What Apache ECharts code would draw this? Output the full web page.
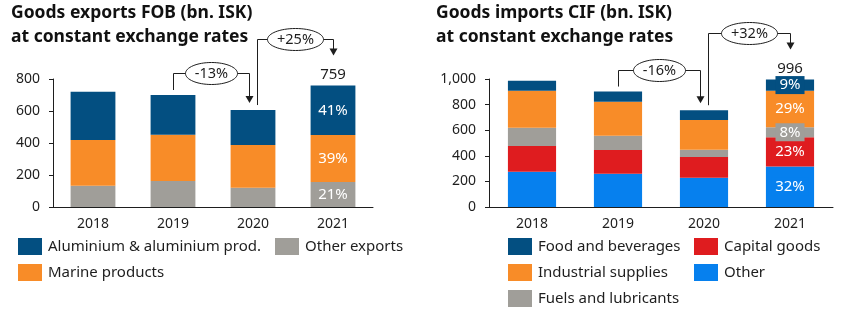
<!DOCTYPE html>
<html>
<head>
<meta charset="utf-8">
<script src="https://cdn.jsdelivr.net/npm/echarts@6/dist/echarts.min.js"></script>
<style>
  html, body { margin: 0; padding: 0; background: #fff; }
  #chart { width: 842px; height: 322px; }
</style>
</head>
<body>
<div id="chart"></div>
<script>
// Categories
const years = ['2018', '2019', '2020', '2021'];

// Goods exports FOB, bn. ISK at constant exchange rates (bottom to top of stack)
const exportOther = [133, 162, 121, 157];
const exportMarine = [286, 290, 266, 293];
const exportAluminium = [301, 248, 219, 309];

// Goods imports CIF, bn. ISK at constant exchange rates (bottom to top of stack)
const importOther = [276, 260, 229, 316];
const importCapital = [201, 185, 162, 228];
const importFuels = [143, 112, 57, 80];
const importIndustrial = [289, 266, 232, 285];
const importFood = [78, 79, 76, 87];

// Axis ticks
const exportTicks = [0, 200, 400, 600, 800];
const importTicks = [0, 200, 400, 600, 800, 1000];

const NAVY = '#034f81';
const ORANGE = '#f88c28';
const GREY = '#a09e99';
const RED = '#df1c1f';
const BLUE = '#0680ee';
const INK = '#1e1e1e';
const FONT = 'Noto Sans';

const chart = echarts.init(document.getElementById('chart'), null, { renderer: 'canvas' });

function sumAt(arrays, i) {
  return arrays.reduce((s, a) => s + a[i], 0);
}

const exportStack = [exportOther, exportMarine, exportAluminium];
const importStack = [importOther, importCapital, importFuels, importIndustrial, importFood];
const exportTotals = years.map((_, i) => sumAt(exportStack, i));
const importTotals = years.map((_, i) => sumAt(importStack, i));

const last = years.length - 1;

// Bar series; the latest year carries its share of the total as a label
function barSeries(name, values, color, gridIndex, totals) {
  return {
    name: name,
    type: 'bar',
    stack: 'g' + gridIndex,
    xAxisIndex: gridIndex,
    yAxisIndex: gridIndex,
    barWidth: '56%',
    itemStyle: { color: color },
    data: values.map((v, i) => i !== last ? v : {
      value: v,
      label: {
        show: true,
        position: 'inside',
        formatter: Math.round(v / totals[i] * 100) + '%',
        color: '#ffffff',
        fontFamily: FONT,
        fontSize: 15,
        backgroundColor: color,
        padding: [2, 4, 1, 4]
      }
    })
  };
}

function legend(names, left, top) {
  return {
    data: names,
    orient: 'vertical',
    left: left,
    top: top,
    padding: 0,
    itemWidth: 24,
    itemHeight: 17,
    itemGap: 9,
    icon: 'rect',
    selectedMode: false,
    textStyle: { fontFamily: FONT, fontSize: 15, color: INK, padding: [0, 0, 0, 1] }
  };
}

function xAxis(gridIndex) {
  return {
    type: 'category',
    gridIndex: gridIndex,
    data: years,
    axisLine: { lineStyle: { color: INK, width: 1 } },
    axisTick: { show: false },
    axisLabel: { fontFamily: FONT, fontSize: 14, color: INK, margin: 10 }
  };
}

function yAxis(gridIndex, ticks) {
  return {
    type: 'value',
    gridIndex: gridIndex,
    min: ticks[0],
    max: ticks[ticks.length - 1],
    interval: ticks[1] - ticks[0],
    axisLine: { show: true, lineStyle: { color: INK, width: 1 } },
    axisTick: { show: true, length: 4, lineStyle: { color: INK } },
    splitLine: { show: false },
    axisLabel: {
      fontFamily: FONT, fontSize: 14, color: INK, margin: 13,
      formatter: v => v.toLocaleString('en-US')
    }
  };
}

const titleStyle = { fontFamily: FONT, fontSize: 17.5, fontWeight: 'bold', color: '#111', lineHeight: 24 };

chart.setOption({
  animation: false,
  backgroundColor: '#ffffff',
  title: [
    { text: 'Goods exports FOB (bn. ISK)\nat constant exchange rates', left: 11, top: 1, padding: 0, textStyle: titleStyle },
    { text: 'Goods imports CIF (bn. ISK)\nat constant exchange rates', left: 436, top: 1, padding: 0, textStyle: titleStyle }
  ],
  grid: [
    { left: 53, top: 79, width: 320, height: 128 },
    { left: 489, top: 79, width: 344, height: 128 }
  ],
  xAxis: [xAxis(0), xAxis(1)],
  yAxis: [yAxis(0, exportTicks), yAxis(1, importTicks)],
  legend: [
    legend(['Aluminium & aluminium prod.', 'Marine products'], 18, 238),
    legend(['Other exports'], 275, 238),
    legend(['Food and beverages', 'Industrial supplies', 'Fuels and lubricants'], 508, 238),
    legend(['Capital goods', 'Other'], 694, 238)
  ],
  series: [
    barSeries('Other exports', exportOther, GREY, 0, exportTotals),
    barSeries('Marine products', exportMarine, ORANGE, 0, exportTotals),
    barSeries('Aluminium & aluminium prod.', exportAluminium, NAVY, 0, exportTotals),
    barSeries('Other', importOther, BLUE, 1, importTotals),
    barSeries('Capital goods', importCapital, RED, 1, importTotals),
    barSeries('Fuels and lubricants', importFuels, GREY, 1, importTotals),
    barSeries('Industrial supplies', importIndustrial, ORANGE, 1, importTotals),
    barSeries('Food and beverages', importFood, NAVY, 1, importTotals)
  ]
});

// Change call-outs between years: bracket line, ellipse with the % change, arrow head
const lineStyle = { stroke: INK, lineWidth: 1, fill: null };

function pctText(from, to) {
  const p = Math.round((to / from - 1) * 100);
  return (p > 0 ? '+' : '') + p + '%';
}

function crisp(v) { return Math.round(v) + 0.5; }

function bracket(x0, yStart, yLevel, x1, yTip, text, rx) {
  const xa = crisp(x0), xb = crisp(x1), yl = crisp(yLevel);
  const cx = (xa + xb) / 2;
  return [
    { type: 'polyline', z: 5, shape: { points: [[xa, yStart], [xa, yl], [xb, yl], [xb, yTip - 6]] }, style: lineStyle },
    { type: 'polygon', z: 5, shape: { points: [[xb - 4, yTip - 7], [xb + 4, yTip - 7], [xb, yTip]] }, style: { fill: INK } },
    { type: 'ellipse', z: 6, shape: { cx: cx, cy: yl, rx: rx, ry: 11 }, style: { fill: '#ffffff', stroke: INK, lineWidth: 1 } },
    { type: 'text', z: 7, x: cx, y: yl, style: { text: text, fill: INK, font: '14.5px "' + FONT + '"', align: 'center', verticalAlign: 'middle' } }
  ];
}

function callouts(gridIndex, totals) {
  const p = totals.map((t, i) => chart.convertToPixel({ gridIndex: gridIndex }, [i, t]));
  const labelY = p[3][1] - 11;
  return [].concat(
    bracket(p[1][0], p[1][1] - 5, p[1][1] - 22, p[2][0] - 4, p[2][1] - 7, pctText(totals[1], totals[2]), 26),
    bracket(p[2][0] + 4, p[2][1] - 5, labelY - 36, p[3][0], labelY - 19, pctText(totals[2], totals[3]), 28),
    [{ type: 'text', z: 1, x: p[3][0], y: labelY, style: { text: String(totals[3]), fill: INK, font: '15px "' + FONT + '"', align: 'center', verticalAlign: 'middle' } }]
  );
}

chart.setOption({
  graphic: { elements: [].concat(callouts(0, exportTotals), callouts(1, importTotals)) }
});
</script>
</body>
</html>
